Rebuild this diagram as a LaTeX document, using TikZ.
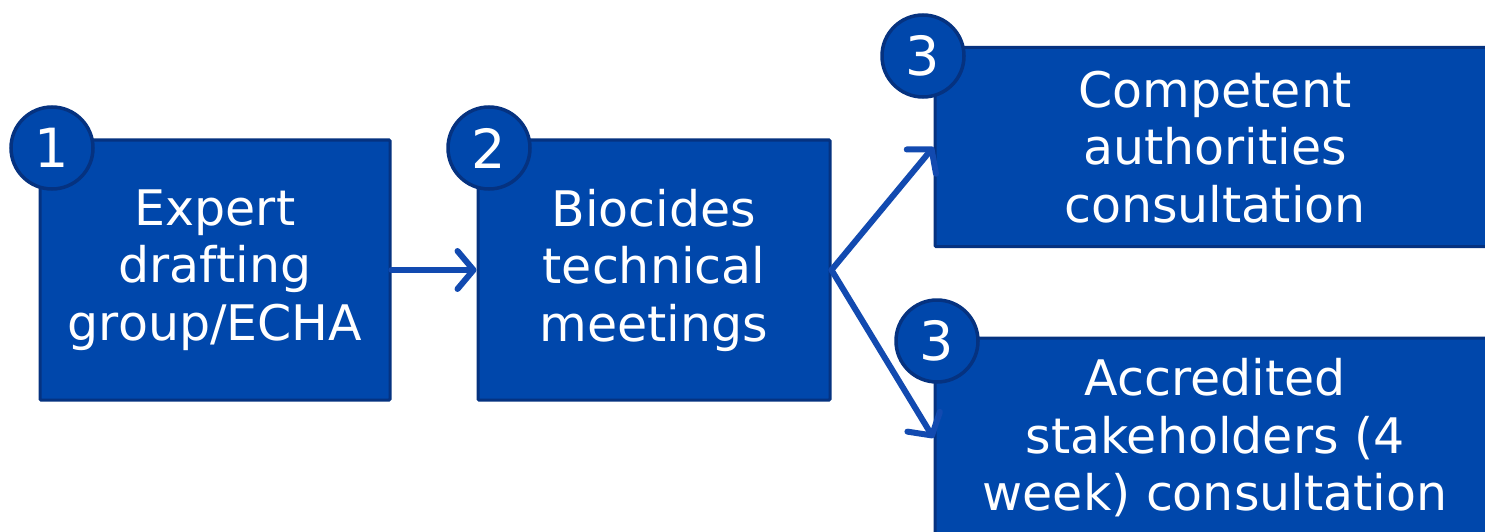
\documentclass[tikz,border=0pt]{standalone}
\usepackage{fontspec}
\setmainfont{DejaVu Sans}
\usetikzlibrary{arrows.meta}

\definecolor{boxblue}{RGB}{0,71,171}
\definecolor{edgeblue}{RGB}{5,50,128}
\definecolor{arrowblue}{RGB}{18,74,176}

\tikzset{
    stepbox/.style={draw=edgeblue, fill=boxblue, line width=3pt, rounded corners=1pt,
        text=white, align=center, inner sep=0pt,
        font=\fontsize{49}{57.5}\selectfont},
    numdot/.style={circle, draw=edgeblue, fill=boxblue, line width=3.5pt,
        minimum size=82pt, inner sep=0pt, text=white,
        font=\fontsize{54}{54}\selectfont},
    flow/.style={draw=arrowblue, line width=6pt, line cap=round,
        -{Straight Barb[length=16pt,width=38pt,round]}}
}

\begin{document}
\begin{tikzpicture}[x=1pt, y=-1pt]
        \useasboundingbox (0, 0) rectangle (1485, 532);

        \node[stepbox, minimum width=350pt, minimum height=260pt] (expert) at(215, 270){Expert\\drafting\\group/ECHA};
        \node[stepbox, minimum width=352pt, minimum height=260pt] (btm) at(654, 270){Biocides\\technical\\meetings};
        \node[stepbox, minimum width=560pt, minimum height=199pt] (ca) at(1215, 147){Competent\\authorities\\consultation};
        \node[stepbox, minimum width=560pt, minimum height=200pt] (stake) at(1215, 438){Accredited\\stakeholders (4\\week) consultation};

        \node[numdot] (n1) at(52, 148){1};
        \node[numdot] (n2) at(489, 148){2};
        \node[numdot] (n3a) at(923, 56){3};
        \node[numdot] (n3b) at(937, 341){3};

        \draw[flow] (expert.east) -- (btm.west);
        \draw[flow] (btm.east) -- (ca.west);
        \draw[flow] (btm.east) -- (stake.west);
    \end{tikzpicture}
\end{document}
